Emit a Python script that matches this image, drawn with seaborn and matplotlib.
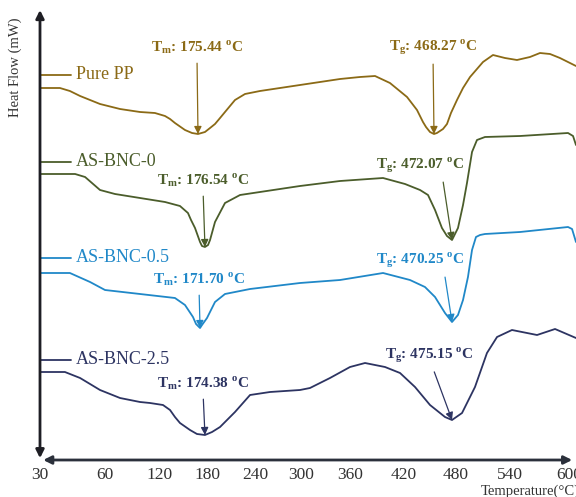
import numpy as np
import pandas as pd
import matplotlib
matplotlib.use('Agg')
import matplotlib.pyplot as plt
import seaborn as sns

# temperature axis of the original is not uniform: tick values and where they sit
tick_temps = [30, 60, 120, 180, 240, 300, 360, 420, 480, 540, 600]
tick_pos = [40, 105, 160, 207, 255, 301, 350, 404, 456, 510, 569]

# DSC curves (temperature in C, heat flow in arbitrary units, stacked)
pp_temp = [30, 39.2, 43.8, 48.5, 57.7, 76.4, 98.2, 114.5, 126.4, 132.8, 139.1, 151.9, 160.9,
           168.5, 177.4, 183.8, 190, 196.3, 202.5, 215, 227.5, 246.5, 272.6, 298.7, 323.3, 347.8,
           371.1, 387.8, 404.4, 423.5, 435, 441.9, 445.4, 450, 454.6, 458, 461.5, 465, 469.6,
           474.2, 481.1, 487.8, 495.6, 510, 521.1, 534.4, 547.1, 560.3, 570.5, 580.7, 590.8,
           601, 607.1]
pp_flow = [412, 412, 409, 404, 396, 391, 388, 387, 384, 381, 377, 370, 367,
           366, 368, 372, 376, 382, 388, 400, 406, 409, 412, 415, 418, 421,
           423, 424, 417, 403, 390, 378, 373, 368, 366, 367, 369, 371, 376,
           387, 400, 412, 423, 438, 445, 442, 440, 443, 447, 446, 442,
           437, 434]

bnc0_temp = [30, 46.2, 50.8, 57.7, 70.9, 98.2, 126.4, 145.5, 155.7, 159.6, 164.7, 171.1, 173.6,
             177.4, 181.3, 183.8, 190, 202.5, 221.3, 246.5, 298.7, 347.8, 396.7, 421.2, 438.5,
             447.7, 455.8, 463.8, 469.6, 475.4, 482.2, 487.8, 492.2, 497.8, 503.3, 512.2, 550.2,
             599, 604.1, 607.1]
bnc0_flow = [326, 326, 323, 310, 306, 302, 298, 294, 287, 280, 272, 258, 254,
             253, 255, 260, 278, 297, 305, 308, 314, 319, 322, 316, 310,
             305, 290, 272, 264, 260, 272, 295, 317, 348, 360, 363, 364,
             367, 364, 355]

bnc05_temp = [30, 43.8, 53.1, 60, 98.2, 139.1, 151.9, 162.1, 166, 171.1, 173.6, 180, 190, 202.5,
              233.8, 298.7, 347.8, 396.7, 426.9, 444.2, 455.8, 467.3, 475.4, 482.2,
              487.8, 493.3, 497.8, 502.2, 506.7, 512.2, 550.2, 599, 603.1, 607.1]
bnc05_flow = [227, 227, 218, 210, 206, 202, 195, 183, 176, 172, 175, 182, 198, 206,
              211, 217, 220, 227, 220, 213, 203, 187, 178, 185,
              200, 223, 250, 263, 265, 266, 268, 273, 271, 258]

bnc25_temp = [30, 41.5, 48.5, 57.7, 76.4, 87.3, 98.2, 109.1, 123.8, 132.8, 139.1, 145.5, 158.3,
              167.2, 177.4, 186.3, 196.3, 215, 233.8, 259.6, 298.7, 311, 335.5, 360, 376.7,
              398.9, 415.6, 432.7, 450, 467.3, 475.4, 486.7, 501.1, 514.4, 525.6, 542, 567.5,
              585.8, 607.1]
bnc25_flow = [128, 128, 122, 110, 102, 100, 98, 97, 95, 90, 83, 77, 70,
              66, 65, 68, 73, 88, 105, 108, 110, 112, 122, 133, 137,
              133, 127, 113, 95, 83, 80, 87, 113, 147, 163, 170, 165,
              171, 162]

samples = ['Pure PP', 'AS-BNC-0', 'AS-BNC-0.5', 'AS-BNC-2.5']
colors = ['#8b6a16', '#4b5d2b', '#2088c8', '#2d3462']
tm_text = ['175.44', '176.54', '171.70', '174.38']
tg_text = ['468.27', '472.07', '470.25', '475.15']

series = [(pp_temp, pp_flow), (bnc0_temp, bnc0_flow), (bnc05_temp, bnc05_flow), (bnc25_temp, bnc25_flow)]
df = pd.concat([pd.DataFrame({'Temperature': t, 'Heat Flow': f, 'Sample': s})
                for (t, f), s in zip(series, samples)], ignore_index=True)


def _lin(x, xs, ys):
    x = np.asarray(x, float)
    mid = np.interp(x, xs, ys)
    lo = ys[0] + (x - xs[0]) * (ys[1] - ys[0]) / (xs[1] - xs[0])
    hi = ys[-1] + (x - xs[-1]) * (ys[-1] - ys[-2]) / (xs[-1] - xs[-2])
    return np.where(x < xs[0], lo, np.where(x > xs[-1], hi, mid))


def to_pos(t):
    return _lin(t, tick_temps, tick_pos)


def to_temp(p):
    return _lin(p, tick_pos, tick_temps)


def dip(t, f, lo, hi):
    t = np.asarray(t, float)
    f = np.asarray(f, float)
    i = np.argmin(np.where((t >= lo) & (t <= hi), f, np.inf))
    return t[i], f[i]


sns.set_style('white')
plt.rcParams['font.family'] = ['Liberation Serif', 'DejaVu Serif']
plt.rcParams['mathtext.fontset'] = 'custom'
plt.rcParams['mathtext.rm'] = 'Liberation Serif'
plt.rcParams['mathtext.bf'] = 'Liberation Serif:bold'

fig = plt.figure(figsize=(5.76, 4.97), dpi=100)
ax = fig.add_axes([40 / 576, 1 - 460 / 497, 529 / 576, 450 / 497])
ax.set_xscale('function', functions=(to_pos, to_temp))

sns.lineplot(data=df, x='Temperature', y='Heat Flow', hue='Sample', hue_order=samples,
             palette=colors, estimator=None, legend=False, linewidth=1.3, ax=ax)
for ln in ax.lines:
    ln.set_clip_on(False)
    ln.set_solid_joinstyle('round')

ax.set_xlim(30, 600)
ax.set_ylim(40, 490)
ax.set_xticks(tick_temps)
ax.set_xticklabels([str(v) for v in tick_temps], fontsize=12.5, color='#333333')
ax.tick_params(axis='x', length=0, pad=5)
ax.set_yticks([])
ax.set_xlabel('')
ax.set_ylabel('')
for sp in ax.spines.values():
    sp.set_visible(False)

# axis arrows
ax.annotate('', xy=(0, 1.0), xytext=(0, 0.004), xycoords='axes fraction',
            arrowprops=dict(arrowstyle='<|-|>', color='#1e1e24', lw=2, mutation_scale=12,
                            shrinkA=0, shrinkB=0))
ax.annotate('', xy=(1.006, 0), xytext=(0.006, 0), xycoords='axes fraction',
            arrowprops=dict(arrowstyle='<|-|>', color='#2b303b', lw=2, mutation_scale=12,
                            shrinkA=0, shrinkB=0))

# series labels with short line at the left
label_y = [425, 338, 242, 140]
for s, c, y in zip(samples, colors, label_y):
    ax.plot([30, 44.5], [y, y], color=c, lw=1.3, clip_on=False)
    ax.text(46.6, y, s, color=c, fontsize=13, va='center', ha='left')

# Tm / Tg annotations
tm_xy = [(167.2, 453), (174.9, 320), (169.8, 221), (174.9, 117)]
tg_xy = [(453.5, 453), (438.5, 335), (438.5, 240), (448.8, 145)]
tg_rel = [0.5, 0.75, 0.77, 0.53]
for (t, f), c, tm, tg, p1, p2, r in zip(series, colors, tm_text, tg_text, tm_xy, tg_xy, tg_rel):
    ax.annotate(r'$\mathbf{T_m}$: ' + tm + r' $^{\mathbf{o}}$C', xy=dip(t, f, 100, 260), xytext=p1,
                ha='center', va='center', color=c, fontsize=11, fontweight='bold',
                arrowprops=dict(arrowstyle='-|>', color=c, lw=0.9, mutation_scale=11,
                                shrinkA=3, shrinkB=0, relpos=(0.5, 0)))
    ax.annotate(r'$\mathbf{T_g}$: ' + tg + r' $^{\mathbf{o}}$C', xy=dip(t, f, 400, 520), xytext=p2,
                ha='center', va='center', color=c, fontsize=11, fontweight='bold',
                arrowprops=dict(arrowstyle='-|>', color=c, lw=0.9, mutation_scale=11,
                                shrinkA=3, shrinkB=0, relpos=(r, 0)))

fig.text(15 / 576, 1 - 67 / 497, 'Heat Flow (mW)', rotation=90, ha='center', va='center',
         fontsize=10.5, color='#333333')
fig.text(481 / 576, 1 - 491 / 497, 'Temperature(\u00b0C)', ha='left', va='center',
         fontsize=10.5, color='#333333')

fig.savefig('out.png', dpi=100)
